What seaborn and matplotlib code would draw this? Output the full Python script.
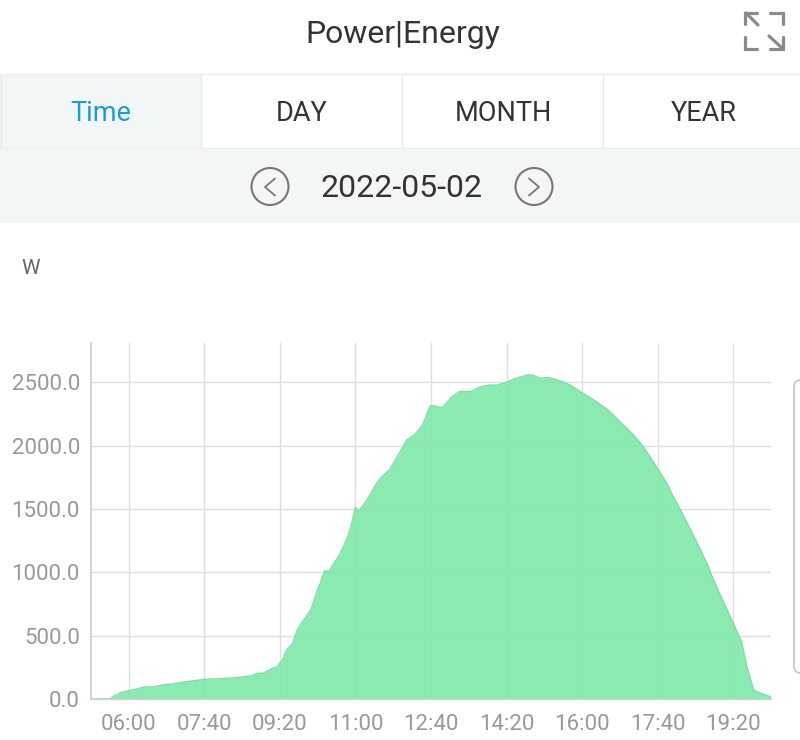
import matplotlib
matplotlib.use('Agg')
import matplotlib.pyplot as plt
from matplotlib.patches import Rectangle, Circle, FancyBboxPatch
import pandas as pd
import seaborn as sns

# minutes since midnight
minutes = [310, 335, 341, 350, 360, 370, 381, 394, 407, 418, 436, 460, 498, 524, 529, 537,
           546, 550, 556, 564, 569, 577, 583, 590, 601, 608, 615, 619, 625, 630, 639, 650,
           654, 660, 664, 674, 688, 696, 705, 718, 728, 738, 749, 759, 765, 775, 787, 798,
           813, 824, 838, 847, 860, 871, 888, 895, 904, 915, 930, 944, 961, 979, 994, 1001,
           1010, 1019, 1028, 1041, 1054, 1063, 1072, 1080, 1089, 1098, 1107, 1116, 1125, 1133,
           1142, 1151, 1160, 1171, 1178, 1187, 1193, 1210]
watts = [0, 0, 26, 50, 66, 79, 95, 97, 113, 118, 137, 155, 166, 184, 203, 203,
         228, 242, 250, 315, 387, 440, 545, 611, 703, 830, 940, 1013, 1005, 1058, 1137, 1282,
         1361, 1513, 1484, 1558, 1703, 1761, 1808, 1940, 2045, 2085, 2163, 2316, 2313, 2298, 2382, 2427,
         2427, 2461, 2479, 2477, 2500, 2529, 2558, 2556, 2532, 2537, 2514, 2479, 2413, 2348, 2282, 2242,
         2190, 2137, 2085, 1992, 1874, 1790, 1703, 1605, 1505, 1400, 1295, 1184, 1071, 953,
         834, 716, 597, 453, 255, 71, 53, 16]
x_labels = ['06:00', '07:40', '09:20', '11:00', '12:40', '14:20', '16:00', '17:40', '19:20']
y_ticks = [0, 500, 1000, 1500, 2000, 2500]
tabs = ['Time', 'DAY', 'MONTH', 'YEAR']

sns.set_theme(style='white')
plt.rcParams['font.family'] = ['Roboto', 'DejaVu Sans']

df = pd.DataFrame({'minute': minutes, 'power': watts})

fig = plt.figure(figsize=(8, 7.4), dpi=100, facecolor='white')

# page chrome in pixel coordinates
ui = fig.add_axes([0, 0, 1, 1])
ui.set_xlim(0, 800)
ui.set_ylim(740, 0)
ui.axis('off')

ui.add_patch(Rectangle((0, 74), 201, 74, fc='#f3f6f7', ec='none'))
ui.add_patch(Rectangle((0, 148), 800, 75, fc='#f3f6f7', ec='none'))
ui.plot([0, 800], [74, 74], color='#eceeef', lw=1)
ui.plot([0, 800], [148, 148], color='#eceeef', lw=1)
for xp in [201, 402, 603]:
    ui.plot([xp, xp], [74, 148], color='#e6e9ea', lw=1)
ui.plot([0.5, 0.5], [74, 148], color='#e6e9ea', lw=1)

ui.text(403, 34.5, 'Power|Energy', ha='center', va='center', fontsize=23, color='#333333')
for i, name in enumerate(tabs):
    ui.text(101 + i * 201, 113.5, name, ha='center', va='center', fontsize=19.5,
            color='#1a9bd7' if i == 0 else '#333333')
ui.text(402, 188.5, '2022-05-02', ha='center', va='center', fontsize=23, color='#333333')
ui.text(31, 269, 'W', ha='center', va='center', fontsize=15, color='#666666')

# prev / next buttons
for cx, d in [(270, -1), (534, 1)]:
    ui.add_patch(Circle((cx, 186.5), 18.5, fc='none', ec='#777777', lw=1.5))
    ui.plot([cx - d * 5, cx + d * 5, cx - d * 5], [178.5, 187, 195.5], color='#777777', lw=1.3)

# fullscreen icon
ic = '#8a8a8a'
ui.plot([757, 745, 745], [12.5, 12.5, 24], color=ic, lw=2.3, solid_joinstyle='miter')
ui.plot([746, 758], [13, 25], color=ic, lw=2.3)
ui.plot([770, 783, 783], [12.5, 12.5, 24], color=ic, lw=2.3, solid_joinstyle='miter')
ui.plot([745, 745, 757], [37, 49, 49], color=ic, lw=2.3, solid_joinstyle='miter')
ui.plot([770, 783, 783], [49, 49, 37], color=ic, lw=2.3, solid_joinstyle='miter')
ui.plot([769, 782], [36, 48], color=ic, lw=2.3)

# edge of the panel on the right
ui.add_patch(FancyBboxPatch((794, 380), 30, 293, boxstyle='round,pad=0,rounding_size=7',
                            fc='white', ec='#c4c4c4', lw=1.2))

# chart
ax = fig.add_axes([91 / 800, (740 - 699) / 740, 680 / 800, 356 / 740])
ax.patch.set_alpha(0)
sns.lineplot(data=df, x='minute', y='power', ax=ax, color='#7fdca6', lw=1, zorder=3)
ax.fill_between(df['minute'], df['power'], 0, color='#80e9ab', alpha=0.92, lw=0, zorder=2)

x_ticks = [int(s[:2]) * 60 + int(s[3:]) for s in x_labels]
ax.set_xlim(310, 1210)
ax.set_ylim(0, 2810)
ax.set_xticks(x_ticks)
ax.set_xticklabels(x_labels)
ax.set_yticks(y_ticks)
ax.set_yticklabels([f'{v:.1f}' for v in y_ticks])
ax.set_xlabel('')
ax.set_ylabel('')
ax.grid(True, color='#dfdfdf', lw=1, zorder=1)
ax.set_axisbelow(True)
ax.tick_params(axis='both', length=0, labelsize=16, labelcolor='#999999')
ax.tick_params(axis='x', pad=11)
ax.tick_params(axis='y', pad=8)
sns.despine(ax=ax, top=True, right=True)
ax.spines['left'].set_color('#d4d4d4')
ax.spines['left'].set_linewidth(1.5)
ax.spines['bottom'].set_color('#d4d4d4')
ax.spines['bottom'].set_linewidth(1)

fig.savefig('out.png', dpi=100)
